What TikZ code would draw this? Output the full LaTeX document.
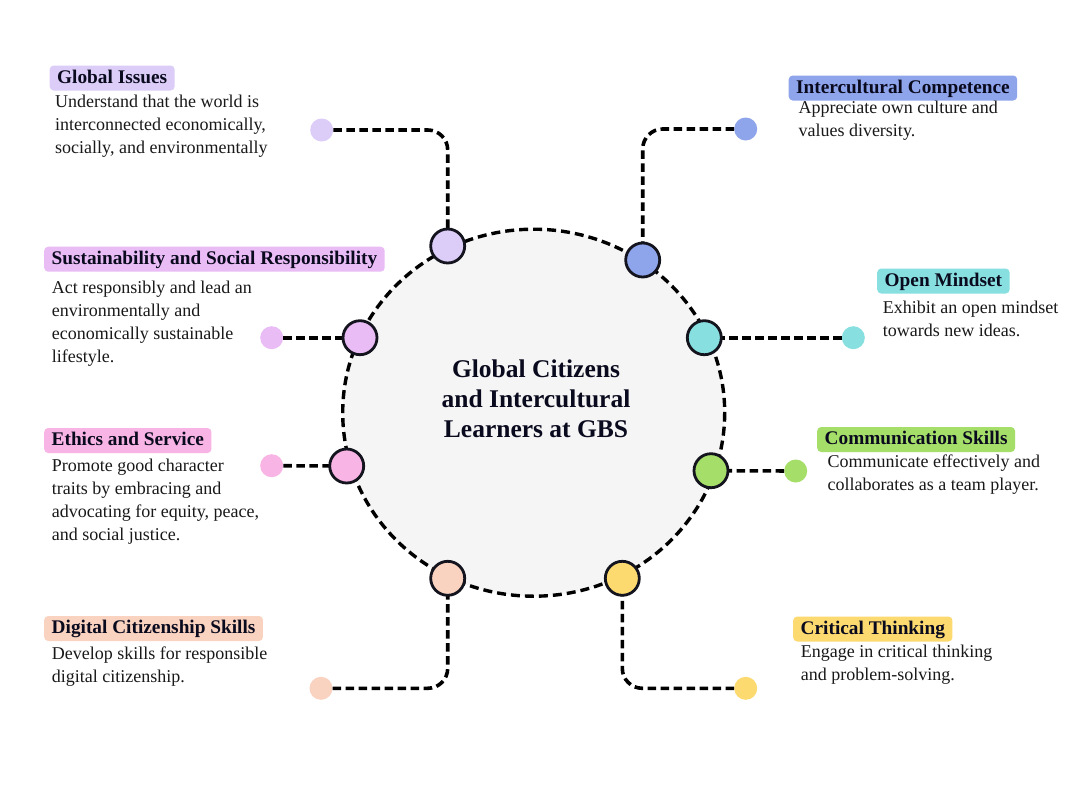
\documentclass[tikz,border=0pt]{standalone}
\usepackage{fontspec}
\setmainfont{Liberation Serif}
\definecolor{cLav}{RGB}{219,205,247}
\definecolor{cBlue}{RGB}{143,165,235}
\definecolor{cViol}{RGB}{234,188,246}
\definecolor{cCyan}{RGB}{135,223,224}
\definecolor{cPink}{RGB}{248,180,228}
\definecolor{cGreen}{RGB}{166,222,106}
\definecolor{cPeach}{RGB}{250,211,192}
\definecolor{cYell}{RGB}{253,218,112}
\definecolor{ringc}{RGB}{20,20,30}
\definecolor{headc}{RGB}{10,10,30}
\definecolor{bodyc}{RGB}{25,25,25}
\definecolor{hubfill}{RGB}{245,245,245}
\begin{document}
\begin{tikzpicture}[x=1pt,y=-1pt,
  hd/.style={anchor=west, fill=#1, rounded corners=4pt, inner xsep=7.5pt, inner ysep=4.5pt,
    text height=13pt, text depth=3pt, font=\fontsize{19.3}{23}\selectfont\bfseries, text=headc},
  bd/.style={anchor=north west, inner sep=0pt, align=left, font=\fontsize{18}{23}\selectfont, text=bodyc},
  hubn/.style={circle, draw=ringc, fill=#1, line width=2.8pt, minimum size=34pt, inner sep=0pt},
  dotn/.style={circle, fill=#1, minimum size=23pt, inner sep=0pt},
  conn/.style={draw=black, line width=3.6pt, dash pattern=on 8.5pt off 4.5pt, rounded corners=20pt}
]
\useasboundingbox (0,0) rectangle (1067,795);
\fill[white] (0,0) rectangle (1067,795);

% central circle
\draw[fill=hubfill, draw=black, line width=3.4pt, dash pattern=on 9pt off 5pt]
  (533.7,412.7) ellipse [x radius=191, y radius=183.5];
\node[anchor=north, align=center, inner sep=0pt, font=\fontsize{25.5}{30}\selectfont\bfseries, text=headc]
  (title) at (536,359.5) {Global Citizens\\and Intercultural\\Learners at GBS};

% end dots
\node[dotn=cLav]   (gid) at (321.7,130) {};
\node[dotn=cBlue]  (icd) at (745.7,129) {};
\node[dotn=cViol]  (sud) at (271.7,337.7) {};
\node[dotn=cCyan]  (omd) at (853.3,337.7) {};
\node[dotn=cPink]  (etd) at (271.7,465.7) {};
\node[dotn=cGreen] (cmd) at (795.7,471) {};
\node[dotn=cPeach] (dgd) at (321,688.3) {};
\node[dotn=cYell]  (ctd) at (745.7,688.3) {};

% hub circle centres
\coordinate (gic) at (447.7,246);
\coordinate (icc) at (642.7,260);
\coordinate (suc) at (360,337.7);
\coordinate (omc) at (704.3,337.7);
\coordinate (etc) at (346.7,466);
\coordinate (cmc) at (711,470.7);
\coordinate (dgc) at (447.7,578.3);
\coordinate (ctc) at (622.3,578.3);

% connectors
\draw[conn] (gid) -| (gic);
\draw[conn] (icd) -| (icc);
\draw[conn] (sud) -- (suc);
\draw[conn] (omd) -- (omc);
\draw[conn] (etd) -- (etc);
\draw[conn] (cmd) -- (cmc);
\draw[conn] (dgd) -| (dgc);
\draw[conn] (ctd) -| (ctc);

% hub circles
\node[hubn=cLav]   (gih) at (gic) {};
\node[hubn=cBlue]  (ich) at (icc) {};
\node[hubn=cViol]  (suh) at (suc) {};
\node[hubn=cCyan]  (omh) at (omc) {};
\node[hubn=cPink]  (eth) at (etc) {};
\node[hubn=cGreen] (cmh) at (cmc) {};
\node[hubn=cPeach] (dgh) at (dgc) {};
\node[hubn=cYell]  (cth) at (ctc) {};

% headings
\node[hd=cLav]   (gil) at (49.5,78) {Global Issues};
\node[hd=cViol]  (sul) at (44,259.2) {Sustainability and Social Responsibility};
\node[hd=cPink]  (etl) at (44,440.5) {Ethics and Service};
\node[hd=cPeach] (dgl) at (44,628.5) {Digital Citizenship Skills};
\node[hd=cBlue]  (icl) at (788.5,88) {Intercultural Competence};
\node[hd=cCyan]  (oml) at (877,281) {Open Mindset};
\node[hd=cGreen] (cml) at (817,439.5) {Communication Skills};
\node[hd=cYell]  (ctl) at (793,629) {Critical Thinking};

% bodies
\node[bd] (gib) at (55,94.4) {Understand that the world is\\interconnected economically,\\socially, and environmentally};
\node[bd] (sub) at (51.7,280.4) {Act responsibly and lead an\\environmentally and\\economically sustainable\\lifestyle.};
\node[bd] (etb) at (51.7,458.7) {Promote good character\\traits by embracing and\\advocating for equity, peace,\\and social justice.};
\node[bd] (dgb) at (51.7,646.7) {Develop skills for responsible\\digital citizenship.};
\node[bd] (icb) at (798.3,100.4) {Appreciate own culture and\\values diversity.};
\node[bd] (omb) at (882.7,300.7) {Exhibit an open mindset\\towards new ideas.};
\node[bd] (cmb) at (827.3,454.7) {Communicate effectively and\\collaborates as a team player.};
\node[bd] (ctb) at (800.7,644.7) {Engage in critical thinking\\and problem-solving.};
\end{tikzpicture}
\end{document}
